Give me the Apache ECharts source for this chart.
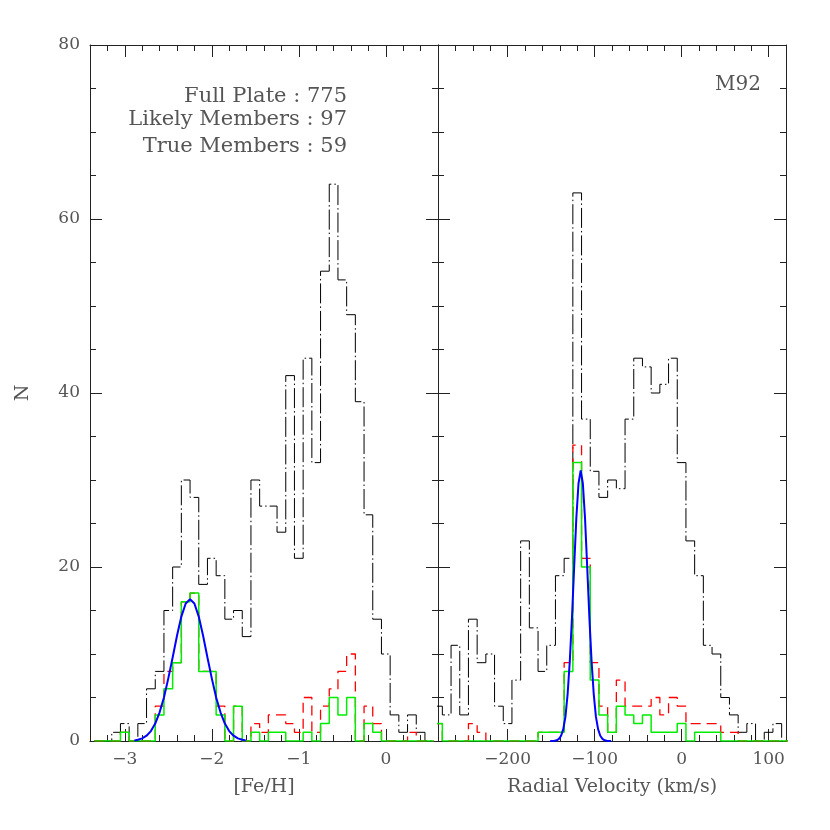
<!DOCTYPE html>
<html>
<head>
<meta charset="utf-8">
<script src="https://cdn.jsdelivr.net/npm/echarts@6/dist/echarts.min.js"></script>
<style>
html, body { margin: 0; padding: 0; background: #fff; }
#chart { width: 830px; height: 830px; }
</style>
</head>
<body>
<div id="chart"></div>
<script>
// [Fe/H] histogram, bins of 0.1 dex
const fehCentres = [-3.3, -3.2, -3.1, -3.0, -2.9, -2.8, -2.7, -2.6, -2.5, -2.4, -2.3, -2.2, -2.1, -2.0, -1.9, -1.8, -1.7, -1.6, -1.5, -1.4,
    -1.3, -1.2, -1.1, -1.0, -0.9, -0.8, -0.7, -0.6, -0.5, -0.4, -0.3, -0.2, -0.1, 0.0, 0.1, 0.2, 0.3, 0.4, 0.5]
const fehPlate = [0, 0, 1, 2, 0, 2, 6, 8, 15, 20, 30, 28, 18, 21, 19, 14, 15, 12, 30, 27,
    27, 24, 42, 21, 44, 32, 54, 64, 53, 49, 39, 26, 14, 10, 3, 1, 3, 1, 0]
const fehLikely = [0, 0, 0, 1, 0, 0, 0, 4, 8, 9, 16, 17, 8, 8, 4, 0, 4, 0, 2, 1,
    3, 3, 2, 1, 5, 1, 4, 6, 8, 10, 0, 4, 2, 0, 0, 0, 1, 0, 0]
const fehTrue = [0, 0, 0, 1, 0, 0, 0, 3, 6, 9, 16, 17, 8, 8, 3, 0, 4, 0, 1, 0,
    1, 1, 0, 0, 1, 0, 2, 5, 3, 5, 0, 2, 1, 0, 0, 0, 0, 0, 0]
// gaussian fit
const fehFitX = [-2.89, -2.85, -2.8, -2.75, -2.7, -2.65, -2.6, -2.55, -2.5, -2.45, -2.4, -2.35, -2.3, -2.25,
    -2.2, -2.15, -2.1, -2.05, -2.0, -1.95, -1.9, -1.85, -1.8, -1.75, -1.7, -1.65, -1.61]
const fehFitN = [0.07, 0.14, 0.3, 0.61, 1.14, 2.0, 3.3, 5.0, 7.2, 9.6, 12.1, 14.3, 15.8, 16.3,
    15.8, 14.3, 12.1, 9.6, 7.2, 5.0, 3.3, 2.0, 1.14, 0.61, 0.3, 0.14, 0.07]

// radial velocity histogram, bins of 10 km/s
const velCentres = [-280, -270, -260, -250, -240, -230, -220, -210, -200, -190, -180, -170, -160, -150, -140, -130, -120, -110, -100, -90,
    -80, -70, -60, -50, -40, -30, -20, -10, 0, 10, 20, 30, 40, 50, 60, 70, 80, 90, 100, 110, 120]
const velPlate = [4, 3, 11, 3, 14, 9, 10, 4, 2, 7, 23, 13, 8, 11, 19, 21, 63, 37, 31, 28,
    30, 29, 37, 44, 43, 40, 41, 44, 32, 23, 19, 11, 10, 5, 3, 1, 2, 0, 1, 2, 0]
const velLikely = [2, 0, 0, 0, 2, 1, 0, 0, 0, 0, 0, 0, 1, 1, 1, 9, 34, 21, 9, 4,
    1, 7, 4, 4, 4, 5, 3, 5, 4, 2, 2, 2, 2, 1, 1, 0, 0, 0, 0, 0, 0]
const velTrue = [2, 0, 0, 0, 0, 0, 0, 0, 0, 0, 0, 0, 1, 1, 1, 8, 32, 20, 7, 3,
    1, 4, 3, 2, 3, 1, 1, 1, 2, 0, 1, 1, 1, 0, 0, 0, 0, 0, 0, 0, 0]
const velFitX = [-151, -148.5, -146, -143.5, -141, -138.5, -136, -133.5, -131, -128.5, -126, -123.5, -121, -118.5, -116,
    -113.5, -111, -108.5, -106, -103.5, -101, -98.5, -96, -93.5, -91, -88.5, -86, -83.5, -81]
const velFitN = [0, 0.01, 0.03, 0.08, 0.24, 0.6, 1.37, 2.8, 5.4, 9.2, 14.2, 20.0, 25.6, 29.6, 31.1,
    29.6, 25.6, 20.0, 14.2, 9.2, 5.4, 2.8, 1.37, 0.6, 0.24, 0.08, 0.03, 0.01, 0]

// ticks
const fehMajor = [-3, -2, -1, 0]
const fehMinor = [-3.2, -2.8, -2.6, -2.4, -2.2, -1.8, -1.6, -1.4, -1.2, -0.8, -0.6, -0.4, -0.2, 0.2, 0.4]
const velMajor = [-200, -100, 0, 100]
const velMinor = [-260, -240, -220, -180, -160, -140, -120, -80, -60, -40, -20, 20, 40, 60, 80]
const nTicks = [0, 20, 40, 60, 80]

const notes = ['Full Plate : 775', 'Likely Members : 97', 'True Members : 59']
const clusterName = 'M92'

const FONT = 'DejaVu Serif'
const TXT = '#555'
const AXIS = '#222'

const minus = v => String(v).replace('-', '\u2212')

function histLine(centres, counts, w) {
    const pts = centres.map((c, i) => [c - w / 2, counts[i]])
    pts.push([centres[centres.length - 1] + w / 2, counts[counts.length - 1]])
    return pts
}

function xAxes(grid, min, max, major, minor, name) {
    const base = { type: 'value', gridIndex: grid, min: min, max: max, splitLine: { show: false } }
    const line = { show: true, onZero: false, lineStyle: { color: AXIS, width: 1 } }
    const noLine = { show: false, onZero: false }
    const tick = (vals, len) => ({ show: true, inside: true, length: len, customValues: vals, lineStyle: { color: AXIS, width: 1 } })
    return [
        Object.assign({}, base, {
            position: 'bottom', axisLine: line, axisTick: tick(major, 12),
            axisLabel: { show: true, customValues: major, formatter: minus, margin: 10, fontFamily: FONT, fontSize: 17, color: TXT },
            name: name, nameLocation: 'middle', nameGap: 37,
            nameTextStyle: { fontFamily: FONT, fontSize: 19, color: TXT }
        }),
        Object.assign({}, base, { position: 'bottom', axisLine: noLine, axisTick: tick(minor, 6), axisLabel: { show: false } }),
        Object.assign({}, base, { position: 'top', axisLine: line, axisTick: tick(major, 12), axisLabel: { show: false } }),
        Object.assign({}, base, { position: 'top', axisLine: noLine, axisTick: tick(minor, 6), axisLabel: { show: false } })
    ]
}

function yAxes(grid, labelled) {
    const base = {
        type: 'value', gridIndex: grid, min: nTicks[0], max: nTicks[nTicks.length - 1], interval: 20,
        splitLine: { show: false },
        axisLine: { show: true, onZero: false, lineStyle: { color: AXIS, width: 1 } },
        axisTick: { show: true, inside: true, length: 12, lineStyle: { color: AXIS } },
        minorTick: { show: true, splitNumber: 4, length: 6, lineStyle: { color: AXIS } }
    }
    return [
        Object.assign({}, base, {
            position: 'left',
            axisLabel: { show: labelled, margin: 10, fontFamily: FONT, fontSize: 17, color: TXT },
            name: labelled ? 'N' : '', nameLocation: 'middle', nameRotate: 90, nameGap: 57,
            nameTextStyle: { fontFamily: FONT, fontSize: 19, color: TXT }
        }),
        Object.assign({}, base, { position: 'right', axisLabel: { show: false } })
    ]
}

function panelSeries(xi, yi, centres, w, plate, likely, truem, fitX, fitN) {
    const common = { type: 'line', xAxisIndex: xi, yAxisIndex: yi, symbol: 'none', silent: true, animation: false }
    return [
        Object.assign({}, common, { step: 'end', z: 2, data: histLine(centres, plate, w), lineStyle: { color: '#000', width: 1, type: [20, 3, 1.5, 3] } }),
        Object.assign({}, common, { step: 'end', z: 3, data: histLine(centres, likely, w), lineStyle: { color: '#ff0000', width: 1.3, type: [10, 6] } }),
        Object.assign({}, common, { step: 'end', z: 4, data: histLine(centres, truem, w), lineStyle: { color: '#00ee00', width: 1.5 } }),
        Object.assign({}, common, { z: 5, data: fitX.map((x, i) => [x, fitN[i]]), lineStyle: { color: '#0000ff', width: 2 } })
    ]
}

const chart = echarts.init(document.getElementById('chart'), null, { renderer: 'canvas' })

const options = {
    backgroundColor: '#fff',
    animation: false,
    grid: [
        { left: 90, top: 45, width: 348, height: 696, containLabel: false },
        { left: 438, top: 45, width: 348, height: 696, containLabel: false }
    ],
    xAxis: [].concat(
        xAxes(0, -3.4, 0.6, fehMajor, fehMinor, '[Fe/H]'),
        xAxes(1, -280, 120, velMajor, velMinor, 'Radial Velocity (km/s)')
    ),
    yAxis: [].concat(yAxes(0, true), yAxes(1, false)),
    series: [].concat(
        panelSeries(0, 0, fehCentres, 0.1, fehPlate, fehLikely, fehTrue, fehFitX, fehFitN),
        panelSeries(4, 2, velCentres, 10, velPlate, velLikely, velTrue, velFitX, velFitN)
    ),
    graphic: [
        { type: 'text', x: 347, y: 97, silent: true, style: { text: notes[0], align: 'right', verticalAlign: 'middle', fontFamily: FONT, fontSize: 21, fill: TXT } },
        { type: 'text', x: 347, y: 120, silent: true, style: { text: notes[1], align: 'right', verticalAlign: 'middle', fontFamily: FONT, fontSize: 21, fill: TXT } },
        { type: 'text', x: 347, y: 147, silent: true, style: { text: notes[2], align: 'right', verticalAlign: 'middle', fontFamily: FONT, fontSize: 21, fill: TXT } },
        { type: 'text', x: 761, y: 85, silent: true, style: { text: clusterName, align: 'right', verticalAlign: 'middle', fontFamily: FONT, fontSize: 20, fill: TXT } }
    ]
}
chart.setOption(options)
</script>
</body>
</html>
